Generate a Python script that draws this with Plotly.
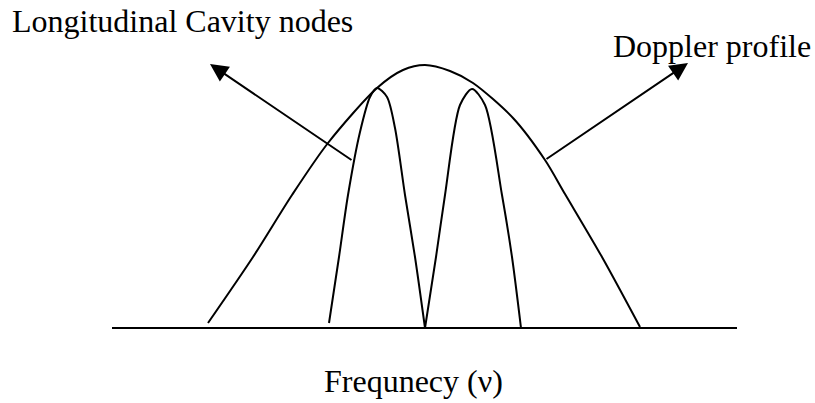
import plotly.graph_objects as go

# Frequency positions (x) and intensities (above the frequency axis)
doppler_x = [208, 253, 292, 328, 377, 403, 425, 450, 473, 513, 545, 565, 602, 640]
doppler_i = [5, 71, 133, 185, 240, 258, 263, 257, 245, 210, 168, 134, 71, 1]

mode1_x = [329, 339, 348, 360, 370, 377, 387, 395, 405, 415, 425]
mode1_i = [5, 71, 133, 196, 231, 240, 231, 200, 133, 71, 0]

mode2_x = [425, 436, 445, 460, 472, 485, 502, 512, 521]
mode2_i = [0, 71, 133, 223, 239, 223, 133, 71, 0]

axis_x = [112, 737]
axis_i = [0, 0]

label_cavity = "Longitudinal Cavity nodes"
label_doppler = "Doppler profile"
label_axis = "Frequnecy (ν)"

FONT = "Liberation Serif, Times New Roman, serif"
line_style = dict(color="black", width=2, shape="spline", smoothing=0.8)

fig = go.Figure()
fig.add_trace(go.Scatter(x=axis_x, y=axis_i, mode="lines",
                         line=dict(color="black", width=2), hoverinfo="skip"))
fig.add_trace(go.Scatter(x=doppler_x, y=doppler_i, mode="lines", line=line_style, hoverinfo="skip"))
fig.add_trace(go.Scatter(x=mode1_x, y=mode1_i, mode="lines", line=line_style, hoverinfo="skip"))
fig.add_trace(go.Scatter(x=mode2_x, y=mode2_i, mode="lines", line=line_style, hoverinfo="skip"))

# text labels
fig.add_annotation(x=10, y=306.8, text=label_cavity, showarrow=False,
                   xanchor="left", yanchor="middle",
                   font=dict(family=FONT, size=32, color="black"))
fig.add_annotation(x=611, y=281.8, text=label_doppler, showarrow=False,
                   xanchor="left", yanchor="middle",
                   font=dict(family=FONT, size=32, color="black"))
fig.add_annotation(x=413.5, y=-53, text=label_axis, showarrow=False,
                   xanchor="center", yanchor="middle",
                   font=dict(family=FONT, size=32, color="black"))

# arrows
fig.add_annotation(x=210, y=264, ax=353, ay=167, axref="x", ayref="y", xref="x", yref="y",
                   text="", showarrow=True, arrowhead=2, arrowsize=1.8, arrowwidth=2,
                   arrowcolor="black", standoff=0)
fig.add_annotation(x=688, y=265, ax=545, ay=168, axref="x", ayref="y", xref="x", yref="y",
                   text="", showarrow=True, arrowhead=2, arrowsize=1.8, arrowwidth=2,
                   arrowcolor="black", standoff=0)

fig.update_layout(
    width=815, height=403,
    margin=dict(l=0, r=0, t=0, b=0),
    paper_bgcolor="white", plot_bgcolor="white",
    showlegend=False,
    xaxis=dict(range=[0, 815], visible=False, fixedrange=True),
    yaxis=dict(range=[-75, 328], visible=False, fixedrange=True),
)

fig.write_html("out.html", config={"displayModeBar": False},
               post_script="document.body.style.margin='0px';document.body.style.overflow='hidden';")
